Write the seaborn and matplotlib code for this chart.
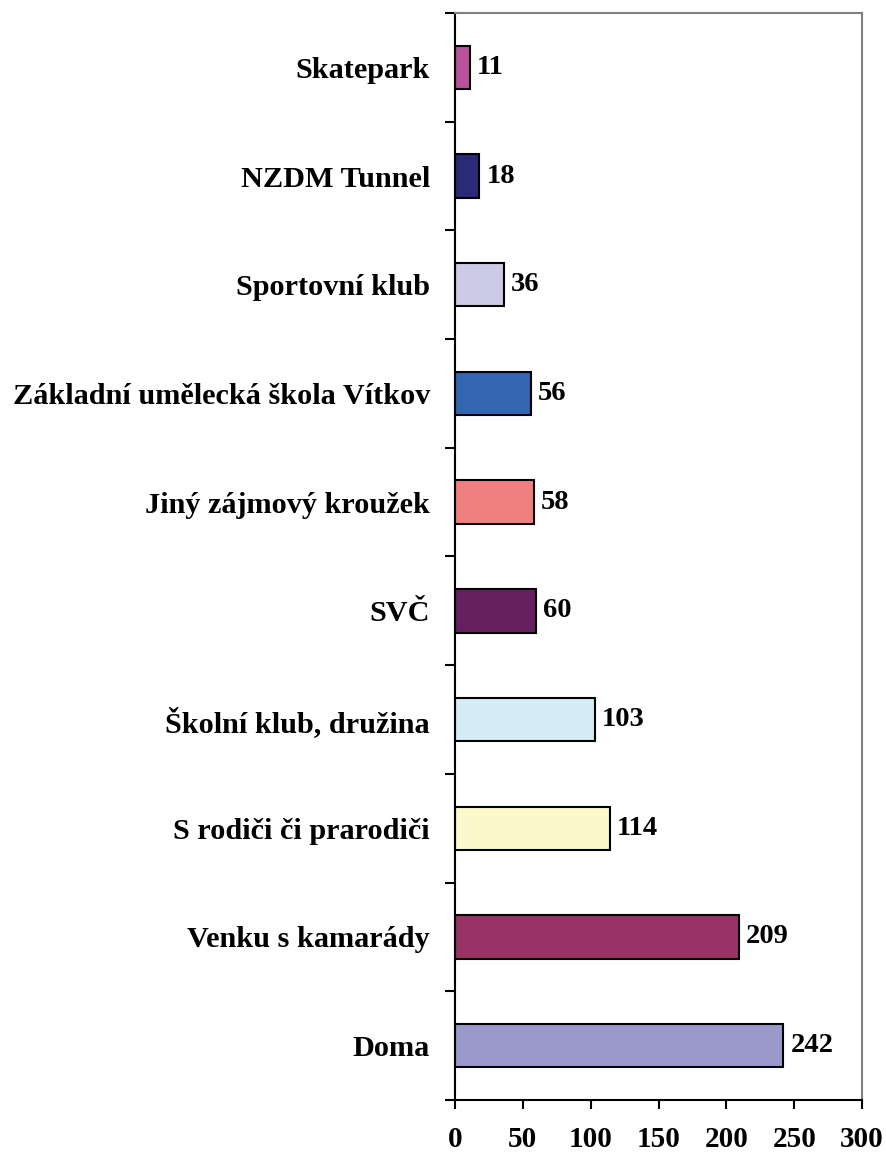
import numpy as np
import pandas as pd
import seaborn as sns
import matplotlib.pyplot as plt
from matplotlib.ticker import FixedLocator

categories = [
    "Skatepark",
    "NZDM Tunnel",
    "Sportovní klub",
    "Základní umělecká škola Vítkov",
    "Jiný zájmový kroužek",
    "SVČ",
    "Školní klub, družina",
    "S rodiči či prarodiči",
    "Venku s kamarády",
    "Doma",
]
values = [11, 18, 36, 56, 58, 60, 103, 114, 209, 242]
bar_colors = [
    "#B8529A", "#2B2A78", "#CCCAE6", "#3366B0", "#F08080",
    "#66205F", "#D4ECF3", "#FAF8CC", "#993366", "#9999CC",
]
x_ticks = [0, 50, 100, 150, 200, 250, 300]

df = pd.DataFrame({"kategorie": categories, "pocet": values})

sns.set_style("white")
plt.rcParams["font.family"] = ["Liberation Serif", "DejaVu Serif"]
plt.rcParams["font.weight"] = "bold"
plt.rcParams["text.color"] = "black"
plt.rcParams["xtick.labelcolor"] = "black"
plt.rcParams["ytick.labelcolor"] = "black"

fig = plt.figure(figsize=(8.86, 11.56), dpi=100)
ax = fig.add_axes([0.5135, 0.0484, 0.973 - 0.5135, 0.9888 - 0.0484])

sns.barplot(
    data=df, x="pocet", y="kategorie", hue="kategorie",
    palette=bar_colors, order=categories, hue_order=categories,
    orient="h", width=0.4, saturation=1, edgecolor="black", linewidth=1.5,
    legend=False, ax=ax,
)

for cont in ax.containers:
    ax.bar_label(cont, padding=5, fontsize=20.5, fontweight="bold", color="black")

ax.set_xlim(0, 300)
ax.set_ylim(len(categories) - 0.5, -0.5)
ax.set_xticks(x_ticks)
ax.set_xlabel("")
ax.set_ylabel("")

# category labels without marks, marks between categories
ax.tick_params(axis="y", which="major", length=0, pad=18, labelsize=21.8)
ax.yaxis.set_minor_locator(FixedLocator(np.arange(-0.5, len(categories), 1.0)))
ax.tick_params(axis="y", which="minor", direction="out", length=7, width=1.5, color="black", left=True)
ax.tick_params(axis="x", direction="out", length=6.5, width=1.5, color="black", bottom=True, pad=12, labelsize=21)
for lab in ax.get_xticklabels() + ax.get_yticklabels():
    lab.set_fontweight("bold")

for side in ["left", "bottom"]:
    ax.spines[side].set_color("black")
    ax.spines[side].set_linewidth(1.5)
for side in ["top", "right"]:
    ax.spines[side].set_color("#808080")
    ax.spines[side].set_linewidth(1.5)

fig.savefig("out.png", dpi=100)
